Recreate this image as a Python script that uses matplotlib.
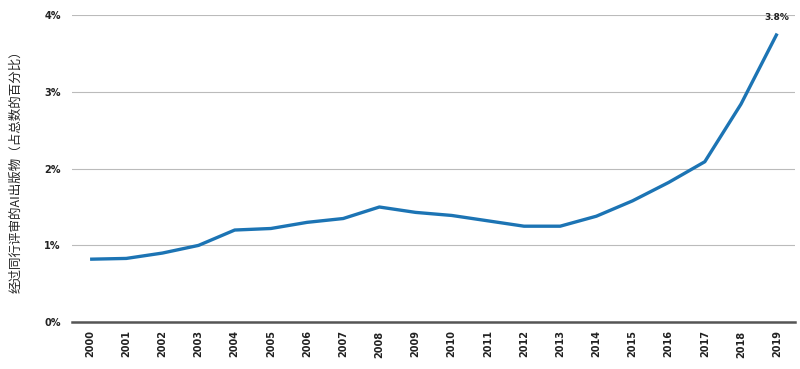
import matplotlib.pyplot as plt

plt.rcParams['font.family'] = ['Noto Sans CJK SC', 'DejaVu Sans']

years = list(range(2000, 2020))
share = [0.82, 0.83, 0.90, 1.00, 1.20, 1.22, 1.30, 1.35, 1.50, 1.43,
         1.39, 1.32, 1.25, 1.25, 1.38, 1.58, 1.82, 2.09, 2.84, 3.76]
yticks = [0, 1, 2, 3, 4]

fig = plt.figure(figsize=(8, 3.69), dpi=100)
ax = fig.add_axes([0.09, 0.127, 0.904, 0.832])

ax.plot(years, share, color='#1c74b4', lw=2.4, solid_capstyle='butt', zorder=3)
ax.annotate('3.8%', (years[-1], share[-1]), xytext=(0, 8), textcoords='offset points',
            ha='center', va='bottom', fontsize=6.5, fontweight='bold', color='#222222',
            family='DejaVu Sans')

ax.set_xlim(1999.5, 2019.5)
ax.set_ylim(0, 4)
ax.set_yticks(yticks)
ax.set_yticklabels([f'{v}%' for v in yticks], fontsize=7, fontweight='bold',
                   color='#222222', family='DejaVu Sans')
ax.set_xticks(years)
ax.set_xticklabels([str(y) for y in years], rotation=90, fontsize=7,
                   fontweight='bold', color='#222222', family='DejaVu Sans')
ax.tick_params(length=0)
ax.tick_params(axis='y', pad=8)
ax.tick_params(axis='x', pad=6)

ax.grid(axis='y', color='#bbbbbb', lw=0.8)
for s in ['top', 'right', 'left']:
    ax.spines[s].set_visible(False)
ax.spines['bottom'].set_color('#555555')
ax.spines['bottom'].set_linewidth(1.8)
ax.spines['bottom'].set_zorder(4)

ax.set_ylabel('经过同行评审的AI出版物（占总数的百分比）', fontsize=9, color='#222222')
ax.yaxis.set_label_coords(-0.068, 0.5)

fig.savefig('out.png', dpi=100)
